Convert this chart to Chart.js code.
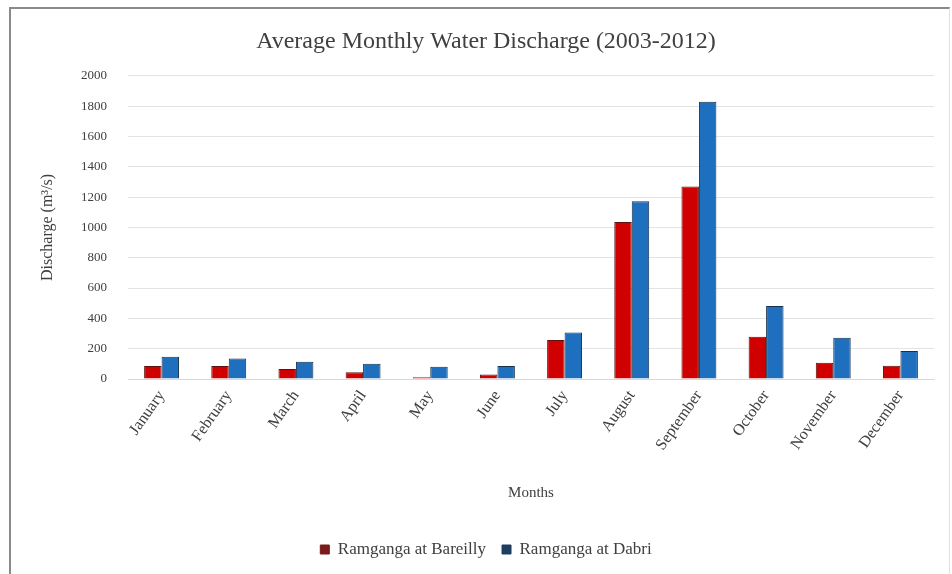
<!DOCTYPE html>
<html>
<head>
<meta charset="utf-8">
<script src="https://cdn.jsdelivr.net/npm/chart.js@4/dist/chart.umd.min.js"></script>
<style>
  html, body { margin: 0; padding: 0; background: #fff; }
  #wrap { position: relative; width: 952px; height: 574px; }
  #frame { position: absolute; left: 9px; top: 7px; width: 941px; height: 580px;
           border-top: 2px solid #8a8a8a; border-left: 2px solid #8a8a8a; border-right: 1px solid #e0e0e0; box-sizing: border-box; pointer-events: none; }
  canvas { position: absolute; left: 0; top: 0; }
</style>
</head>
<body>
<div id="wrap">
  <canvas id="c" width="952" height="574"></canvas>
  <div id="frame"></div>
</div>
<script>
const months = ["January","February","March","April","May","June","July","August","September","October","November","December"];
const bareilly = [85, 85, 66, 45, 12, 30, 257, 1035, 1270, 278, 107, 88];
const dabri = [147, 136, 114, 100, 80, 85, 307, 1173, 1829, 482, 272, 184];
const yTicks = [0, 200, 400, 600, 800, 1000, 1200, 1400, 1600, 1800, 2000];

const serif = "'Liberation Serif', 'DejaVu Serif', serif";

new Chart(document.getElementById('c'), {
  type: 'bar',
  data: {
    labels: months,
    datasets: [
      { label: 'Ramganga at Bareilly', data: bareilly, backgroundColor: '#d10000', borderColor: '#5e1010', borderWidth: 1 },
      { label: 'Ramganga at Dabri', data: dabri, backgroundColor: '#1f6fbf', borderColor: '#17304c', borderWidth: 1 }
    ]
  },
  options: {
    responsive: false,
    animation: false,
    layout: { padding: { left: 38, right: 18, top: 8, bottom: 6 } },
    datasets: { bar: { categoryPercentage: 0.52, barPercentage: 1.0 } },
    plugins: {
      title: {
        display: true,
        text: 'Average Monthly Water Discharge (2003-2012)',
        color: '#404040',
        font: { family: serif, size: 24, weight: 'normal' },
        padding: { top: 19, bottom: 20 }
      },
      legend: {
        position: 'bottom',
        labels: {
          color: '#404040',
          font: { family: serif, size: 17 },
          boxWidth: 9, boxHeight: 9,
          padding: 16,
          generateLabels: (chart) => {
            const base = Chart.defaults.plugins.legend.labels.generateLabels(chart);
            const dark = ['#7a1a1a', '#1f3f60'];
            base.forEach((l, i) => { l.fillStyle = dark[i]; l.strokeStyle = dark[i]; });
            return base;
          }
        }
      },
      tooltip: { enabled: false }
    },
    scales: {
      x: {
        grid: { display: false, drawTicks: false },
        border: { display: true, color: '#d8d8d8' },
        ticks: {
          color: '#404040',
          font: { family: serif, size: 16 },
          minRotation: 55, maxRotation: 55,
          padding: 8
        },
        title: {
          display: true, text: 'Months', color: '#404040',
          font: { family: serif, size: 15 },
          padding: { top: 4, bottom: 23 }
        },
        afterFit: (s) => { s.height = 146; }
      },
      y: {
        min: 0, max: 2000,
        afterBuildTicks: (s) => { s.ticks = yTicks.map(v => ({ value: v })); },
        grid: { color: '#e3e3e3', drawTicks: false },
        border: { display: false },
        ticks: {
          color: '#404040',
          font: { family: serif, size: 13 },
          padding: 21,
          callback: (v) => String(v)
        },
        title: {
          display: true, text: 'Discharge (m³/s)', color: '#404040',
          font: { family: serif, size: 16 },
          padding: { top: 0, bottom: 4 }
        },
        afterFit: (s) => { s.width = 90; }
      }
    }
  }
});
</script>
</body>
</html>
